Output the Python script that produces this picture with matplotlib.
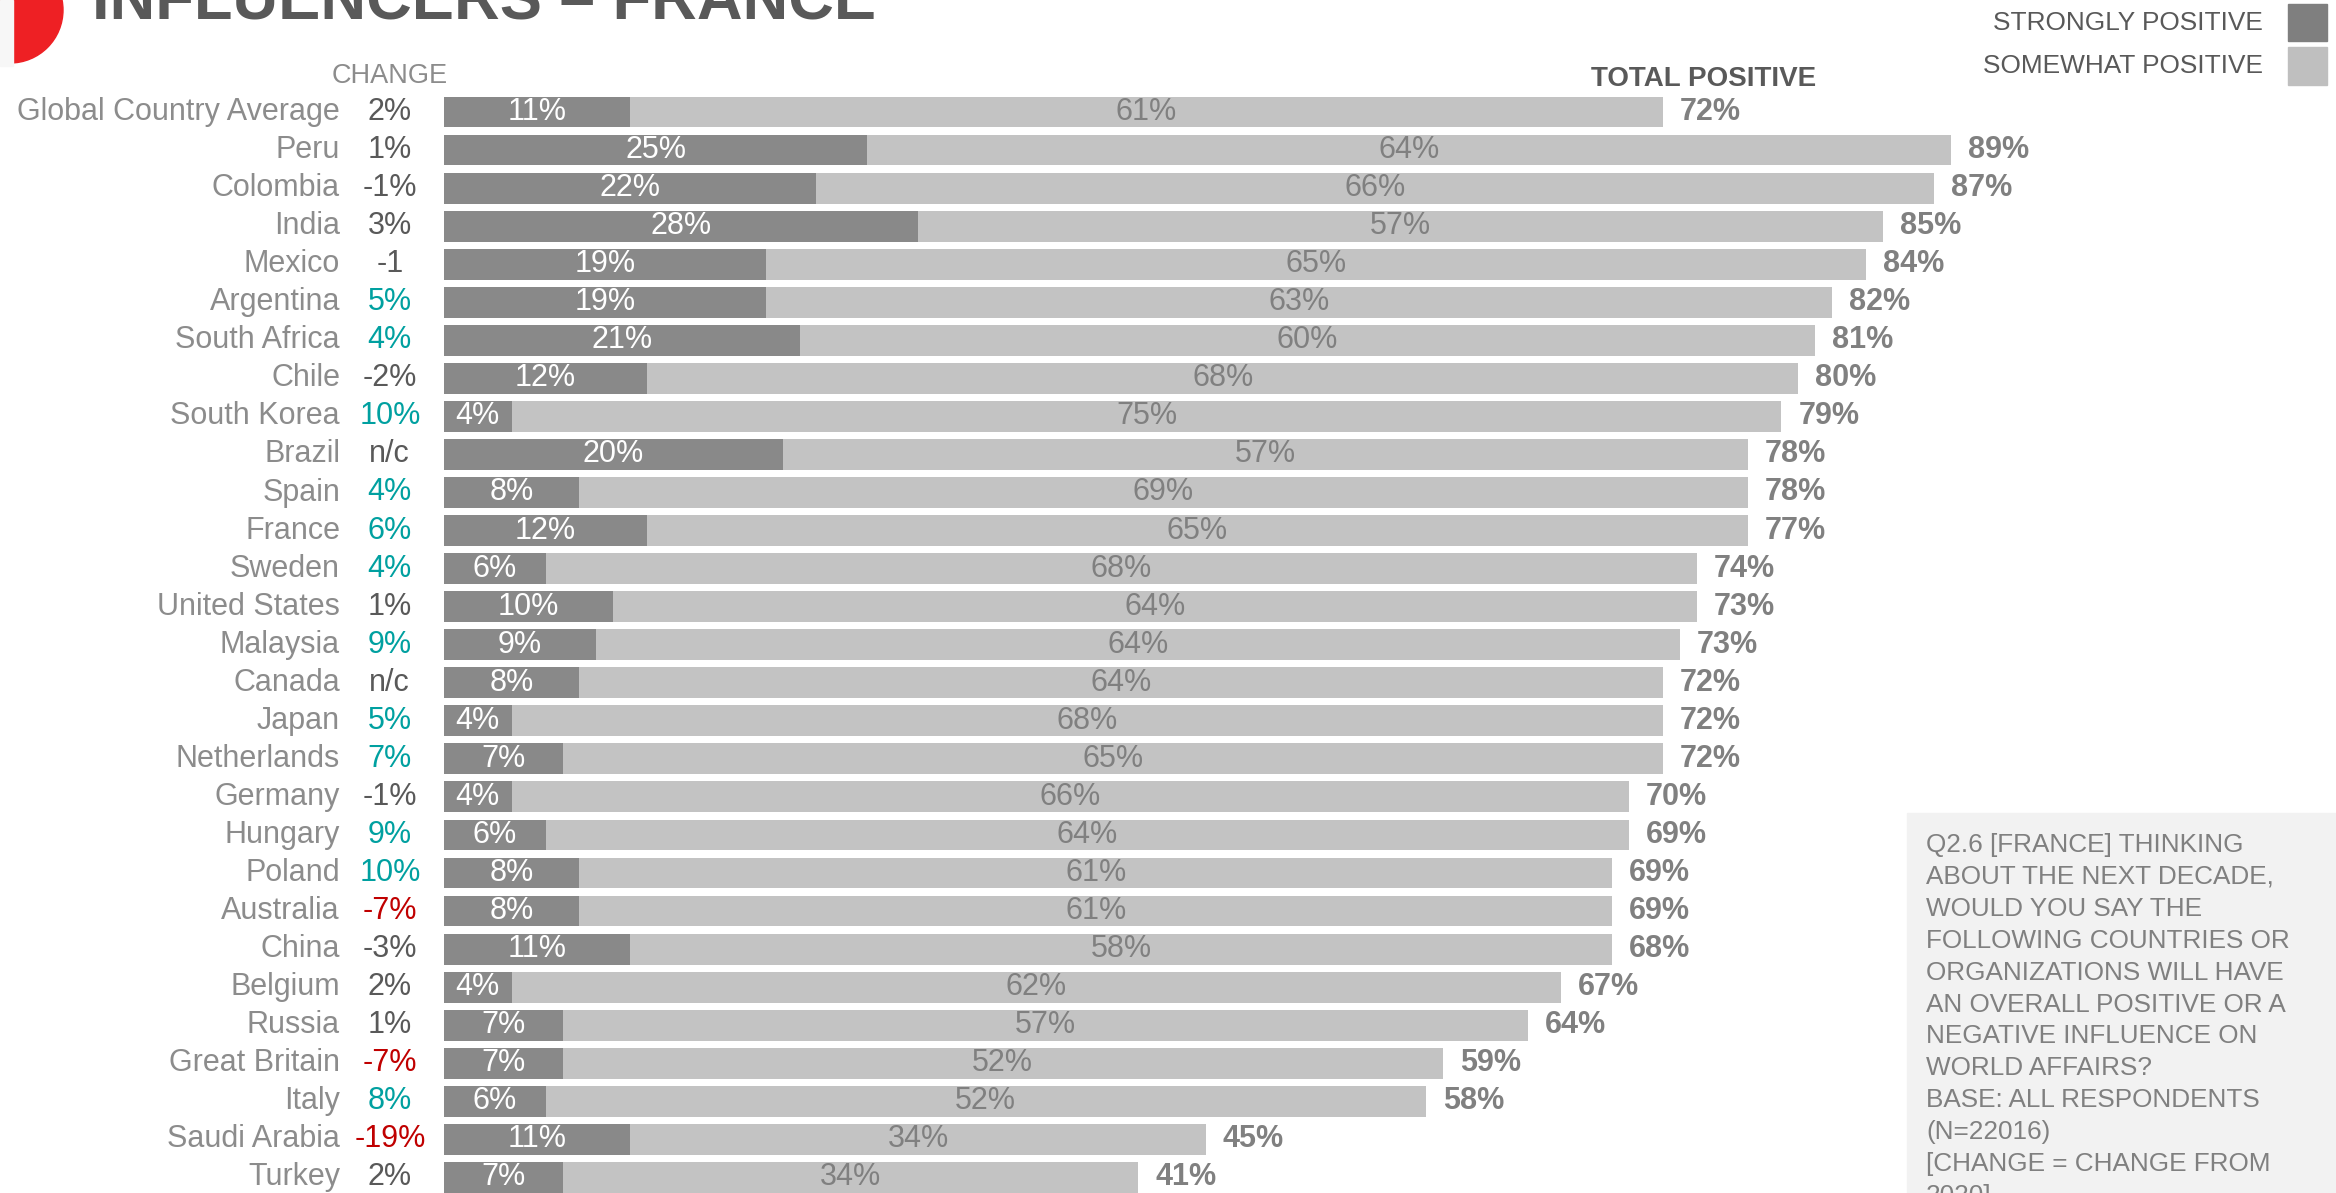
import matplotlib.pyplot as plt
from matplotlib.patches import Rectangle, Ellipse

plt.rcParams['font.family'] = ['Liberation Sans', 'DejaVu Sans']

countries = ["Global Country Average", "Peru", "Colombia", "India", "Mexico",
             "Argentina", "South Africa", "Chile", "South Korea", "Brazil",
             "Spain", "France", "Sweden", "United States", "Malaysia", "Canada",
             "Japan", "Netherlands", "Germany", "Hungary", "Poland", "Australia",
             "China", "Belgium", "Russia", "Great Britain", "Italy",
             "Saudi Arabia", "Turkey"]
strongly = [11, 25, 22, 28, 19, 19, 21, 12, 4, 20, 8, 12, 6, 10, 9, 8, 4, 7,
            4, 6, 8, 8, 11, 4, 7, 7, 6, 11, 7]
somewhat = [61, 64, 66, 57, 65, 63, 60, 68, 75, 57, 69, 65, 68, 64, 64, 64,
            68, 65, 66, 64, 61, 61, 58, 62, 57, 52, 52, 34, 34]
total = [72, 89, 87, 85, 84, 82, 81, 80, 79, 78, 78, 77, 74, 73, 73, 72, 72,
         72, 70, 69, 69, 69, 68, 67, 64, 59, 58, 45, 41]
change = ["2%", "1%", "-1%", "3%", "-1", "5%", "4%", "-2%", "10%", "n/c", "4%",
          "6%", "4%", "1%", "9%", "n/c", "5%", "7%", "-1%", "9%", "10%", "-7%",
          "-3%", "2%", "1%", "-7%", "8%", "-19%", "2%"]
# 'up' / 'down' mark significant changes, '' is no significant change
change_sig = ["", "", "", "", "", "up", "up", "", "up", "", "up", "up", "up",
              "", "up", "", "up", "up", "", "up", "up", "down", "", "", "",
              "down", "up", "down", ""]

footnote = ["Q2.6 [FRANCE] THINKING", "ABOUT THE NEXT DECADE,",
            "WOULD YOU SAY THE", "FOLLOWING COUNTRIES OR",
            "ORGANIZATIONS WILL HAVE", "AN OVERALL POSITIVE OR A",
            "NEGATIVE INFLUENCE ON", "WORLD AFFAIRS?", "BASE: ALL RESPONDENTS",
            "(N=22016)", "[CHANGE = CHANGE FROM", "2020]"]

DARK = "#898989"
LIGHT = "#c3c3c3"
SIG_COLORS = {"up": "#00a0a0", "down": "#c00000", "": "#595959"}

W, H = 2336, 1193
fig = plt.figure(figsize=(W / 100, H / 100), dpi=100)
ax = fig.add_axes([0, 0, 1, 1])

# pixel layout: bars start at x=444, 16.93 px per percent; rows 38.05 px apart
ppx = 16.93
x0 = 444
row_h = 38.05
y0 = 112
ax.set_xlim(-x0 / ppx, (W - x0) / ppx)
ax.set_ylim((H - y0) / row_h, -y0 / row_h)
ax.axis("off")

ys = list(range(len(countries)))
ax.barh(ys, strongly, height=0.81, color=DARK)
ax.barh(ys, somewhat, left=strongly, height=0.81, color=LIGHT)

fs = 22
for i, c in enumerate(countries):
    s, m, t = strongly[i], somewhat[i], total[i]
    ax.text(-6.14, i, c, ha="right", va="center", fontsize=fs, color="#8c8c8c")
    ax.text(-3.2, i, change[i], ha="center", va="center", fontsize=fs,
            color=SIG_COLORS[change_sig[i]])
    ax.text(s / 2, i, f"{s}%", ha="center", va="center", fontsize=fs, color="white")
    ax.text(s + m / 2, i, f"{m}%", ha="center", va="center", fontsize=fs,
            color="#808080")
    ax.text(s + m + 1.0, i, f"{t}%", ha="left", va="center", fontsize=fs,
            color="#808080", fontweight="bold")

ax.text(-3.2, -0.95, "CHANGE", ha="center", va="center", fontsize=19.5,
        color="#8c8c8c")
ax.text(74.4, -0.87, "TOTAL POSITIVE", ha="center", va="center", fontsize=20,
        color="#595959", fontweight="bold")


def fx(px):
    return px / W


def fy(py):
    return 1 - py / H


# header: red corner mark behind a pale side strip, then the title
fig.add_artist(Ellipse((fx(10), fy(10)), 106 / W, 106 / H,
                       transform=fig.transFigure, color="#ee2024", zorder=3))
fig.add_artist(Rectangle((0, fy(66)), 13 / W, 66 / H,
                         transform=fig.transFigure, color="#f7f7f7", zorder=4))
fig.text(fx(92), fy(20), "INFLUENCERS – FRANCE", ha="left", va="baseline",
         fontsize=45.5, fontweight="bold", color="#595959")

# legend
legend_items = [("STRONGLY POSITIVE", "#7f7f7f", 4, 41),
                ("SOMEWHAT POSITIVE", "#bfbfbf", 47, 85)]
for label, col, top, bot in legend_items:
    fig.add_artist(Rectangle((fx(2288), fy(bot)), (2327 - 2288) / W, (bot - top) / H,
                             transform=fig.transFigure, color=col))
    fig.text(fx(2263), fy((top + bot) / 2), label, ha="right", va="center",
             fontsize=18.9, color="#595959")

# question box
fig.add_artist(Rectangle((fx(1907), 0), (W - 1907) / W, fy(813),
                         transform=fig.transFigure, color="#f2f2f2", zorder=0))
for k, line in enumerate(footnote):
    fig.text(fx(1926), fy(852 + k * 31.9), line, ha="left", va="baseline",
             fontsize=18.8, color="#808080")

fig.savefig("out.png", dpi=100)
